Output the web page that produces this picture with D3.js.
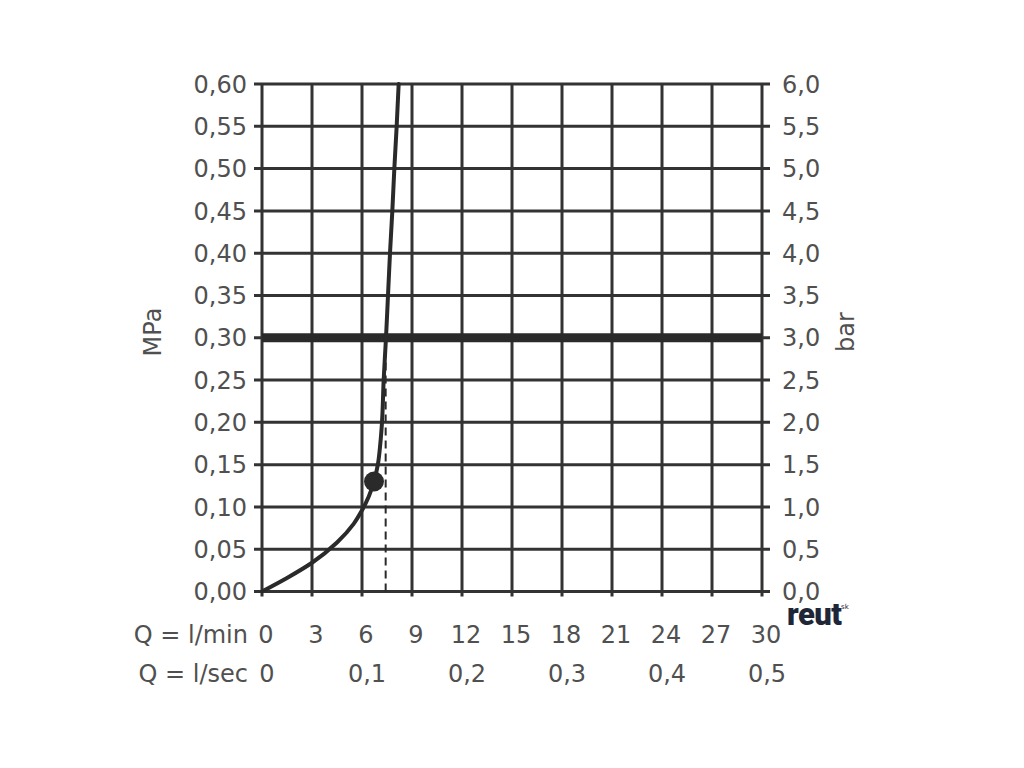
<!DOCTYPE html>
<html>
<head>
<meta charset="utf-8">
<script src="https://cdn.jsdelivr.net/npm/d3@7"></script>
<style>
  body { margin: 0; background: #fff; }
  text { font-family: "DejaVu Sans", sans-serif; fill: #505050; }
</style>
</head>
<body>
<script>
// pressure loss curve, Q in l/min, p in MPa
var flowLmin = [0, 1.5, 3, 4.5, 5.5, 6, 6.4, 6.72, 6.95, 7.1, 7.2, 7.3, 7.44, 7.56, 7.68, 7.82, 7.94, 8.08, 8.2];
var pressMPa = [0, 0.016, 0.034, 0.058, 0.08, 0.096, 0.112, 0.13, 0.15, 0.175, 0.2, 0.25, 0.3, 0.35, 0.4, 0.45, 0.5, 0.55, 0.6];

var mpaTicks = [0, 0.05, 0.10, 0.15, 0.20, 0.25, 0.30, 0.35, 0.40, 0.45, 0.50, 0.55, 0.60];
var barTicks = [0, 0.5, 1.0, 1.5, 2.0, 2.5, 3.0, 3.5, 4.0, 4.5, 5.0, 5.5, 6.0];
var lminTicks = [0, 3, 6, 9, 12, 15, 18, 21, 24, 27, 30];
var lsecTicks = [0, 0.1, 0.2, 0.3, 0.4, 0.5];

var refPressure = 0.30;   // thick horizontal line
var markPoint = {q: 6.72, p: 0.13};
var dashFlow = 7.42;

var width = 1024, height = 768;
var svg = d3.select("body").append("svg").attr("width", width).attr("height", height);

var x = d3.scaleLinear().domain([0, 30]).range([262, 762]);
var xSec = d3.scaleLinear().domain([0, 0.5]).range([262, 762]);
var y = d3.scaleLinear().domain([0, 0.6]).range([591.5, 84]);
var yBar = d3.scaleLinear().domain([0, 6]).range([591.5, 84]);

var gridColor = "#333";
var comma = function (v, n) { return v.toFixed(n).replace(".", ","); };

// horizontal grid lines + left / right ticks
svg.append("g").selectAll("line").data(mpaTicks).enter().append("line")
    .attr("x1", x(0) - 8).attr("x2", x(30) + 8)
    .attr("y1", function (d) { return y(d); })
    .attr("y2", function (d) { return y(d); })
    .attr("stroke", gridColor).attr("stroke-width", 3);

// vertical grid lines + bottom ticks
svg.append("g").selectAll("line").data(lminTicks).enter().append("line")
    .attr("x1", function (d) { return x(d); })
    .attr("x2", function (d) { return x(d); })
    .attr("y1", y(0.6)).attr("y2", y(0) + 5)
    .attr("stroke", gridColor).attr("stroke-width", 3);

// left axis labels
svg.append("g").selectAll("text").data(mpaTicks).enter().append("text")
    .attr("x", 247)
    .attr("y", function (d) { return y(d); })
    .attr("dy", "0.36em")
    .attr("text-anchor", "end")
    .attr("font-size", 24)
    .text(function (d) { return comma(d, 2); });

// right axis labels
svg.append("g").selectAll("text").data(barTicks).enter().append("text")
    .attr("x", 782)
    .attr("y", function (d) { return yBar(d); })
    .attr("dy", "0.36em")
    .attr("text-anchor", "start")
    .attr("font-size", 24)
    .text(function (d) { return comma(d, 1); });

// axis titles
svg.append("text").attr("transform", "translate(161,332) rotate(-90)")
    .attr("text-anchor", "middle").attr("font-size", 24).text("MPa");
svg.append("text").attr("transform", "translate(854,332) rotate(-90)")
    .attr("text-anchor", "middle").attr("font-size", 24).text("bar");

// bottom rows
svg.append("text").attr("x", 248).attr("y", 643).attr("text-anchor", "end")
    .attr("font-size", 24).text("Q = l/min");
svg.append("g").selectAll("text").data(lminTicks).enter().append("text")
    .attr("x", function (d) { return x(d) + 4; })
    .attr("y", 643)
    .attr("text-anchor", "middle")
    .attr("font-size", 24)
    .text(function (d) { return d; });

svg.append("text").attr("x", 248).attr("y", 682).attr("text-anchor", "end")
    .attr("font-size", 24).text("Q = l/sec");
svg.append("g").selectAll("text").data(lsecTicks).enter().append("text")
    .attr("x", function (d) { return xSec(d) + 5; })
    .attr("y", 682)
    .attr("text-anchor", "middle")
    .attr("font-size", 24)
    .text(function (d) { return d == 0 ? "0" : comma(d, 1); });

// reference pressure line
svg.append("line")
    .attr("x1", x(0)).attr("x2", x(30))
    .attr("y1", y(refPressure)).attr("y2", y(refPressure))
    .attr("stroke", "#2a2a2a").attr("stroke-width", 9);

// dashed flow line
svg.append("line")
    .attr("x1", x(dashFlow)).attr("x2", x(dashFlow))
    .attr("y1", y(0)).attr("y2", y(refPressure))
    .attr("stroke", "#2a2a2a").attr("stroke-width", 2)
    .attr("stroke-dasharray", "8,5");

// curve
var pts = flowLmin.map(function (q, i) { return [q, pressMPa[i]]; });
var line = d3.line()
    .x(function (d) { return x(d[0]); })
    .y(function (d) { return y(d[1]); })
    .curve(d3.curveMonotoneY);
svg.append("path").attr("d", line(pts))
    .attr("fill", "none").attr("stroke", "#2a2a2a").attr("stroke-width", 4)
    .attr("stroke-linecap", "round");

// operating point
svg.append("circle")
    .attr("cx", x(markPoint.q)).attr("cy", y(markPoint.p))
    .attr("r", 10).attr("fill", "#2a2a2a");

// watermark
svg.append("text").attr("x", 787).attr("y", 625)
    .attr("font-size", 31).attr("font-weight", "900")
    .style("fill", "#1e2638").style("font-family", "Roboto, sans-serif")
    .style("letter-spacing", "-0.5px")
    .text("reut");
svg.append("text").attr("x", 841).attr("y", 609)
    .attr("font-size", 7).style("fill", "#1e2638").text("sk");
</script>
</body>
</html>
